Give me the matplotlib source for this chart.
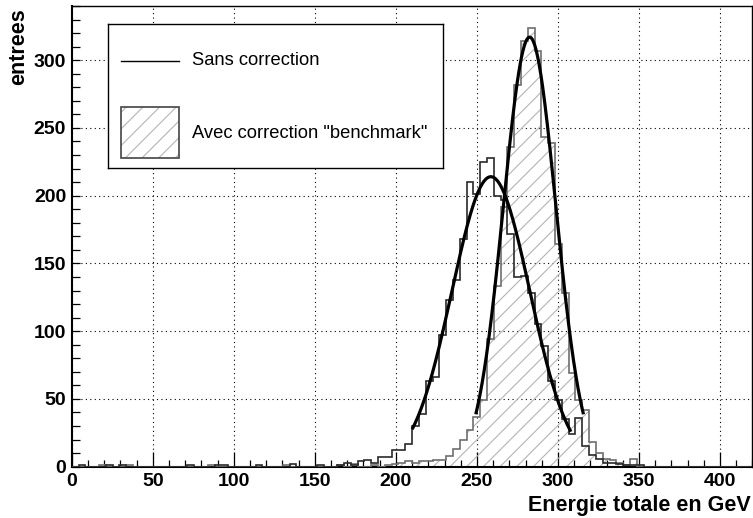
import numpy as np
import matplotlib.pyplot as plt
from matplotlib.patches import Rectangle

plt.rcParams['font.family'] = ['Liberation Sans', 'DejaVu Sans']
plt.rcParams['hatch.linewidth'] = 0.8

# histogram binning: 100 bins of 4.2 GeV
e_min, e_max, n_bins = 0.0, 420.0, 100

# entries per bin, without correction
sans_correction = [
    0, 1, 0, 0, 0, 1, 0, 1, 0, 0,
    0, 0, 0, 0, 0, 0, 0, 1, 0, 0,
    0, 1, 1, 0, 0, 0, 0, 1, 0, 0,
    0, 0, 2, 0, 0, 0, 1, 0, 0, 1,
    3, 1, 4, 5, 3, 7, 7, 12, 12, 17,
    30, 39, 63, 66, 97, 123, 138, 168, 210, 201,
    225, 228, 200, 197, 172, 140, 141, 128, 105, 89,
    63, 49, 35, 24, 36, 15, 9, 6, 3, 3,
    2, 1, 1, 1, 0, 0, 0, 0, 0, 0,
    0, 0, 0, 0, 0, 0, 0, 0, 0, 0,
]

# entries per bin, with the "benchmark" correction
avec_correction = [
    0, 0, 0, 0, 1, 0, 0, 0, 1, 0,
    0, 0, 0, 0, 0, 0, 0, 0, 0, 0,
    1, 0, 0, 0, 0, 0, 0, 0, 0, 0,
    0, 1, 0, 0, 0, 0, 0, 0, 0, 1,
    0, 2, 0, 0, 1, 0, 1, 2, 3, 4,
    3, 4, 4, 5, 5, 8, 13, 20, 27, 37,
    49, 94, 133, 192, 236, 282, 314, 324, 307, 243,
    239, 164, 128, 69, 49, 42, 18, 10, 6, 5,
    3, 1, 6, 0, 0, 0, 0, 0, 0, 0,
    0, 0, 0, 0, 0, 0, 0, 0, 0, 0,
]

# gaussian fits: constant, mean, sigma, fit range
fit_sans = dict(const=214.0, mean=258.6, sigma=24.0, lo=210.5, hi=307.5)
fit_bench = dict(const=317.0, mean=282.5, sigma=16.2, lo=249.5, hi=315.5)

labels = ['Sans correction', 'Avec correction "benchmark"']

hatch_grey = '#b4b4b4'
bench_line = '#6e6e6e'
sans_line = '#2a2a2a'


def gaus(p, n=300):
    x = np.linspace(p['lo'], p['hi'], n)
    return x, p['const'] * np.exp(-0.5 * ((x - p['mean']) / p['sigma']) ** 2)


fig = plt.figure(figsize=(7.53, 5.18), dpi=100)
ax = fig.add_axes([71.7 / 753, 51.3 / 518, (752.5 - 71.7) / 753, 461 / 518])

edges = np.linspace(e_min, e_max, n_bins + 1)

# corrected histogram: hatched fill + grey outline
ax.stairs(avec_correction, edges, fill=True, facecolor='none',
          edgecolor=hatch_grey, hatch='//', linewidth=0, zorder=2)
ax.stairs(avec_correction, edges, color=bench_line, linewidth=1.2, zorder=3)
# uncorrected histogram: plain outline
ax.stairs(sans_correction, edges, color=sans_line, linewidth=1.2, zorder=4)

# fit curves
for p in (fit_sans, fit_bench):
    xf, yf = gaus(p)
    ax.plot(xf, yf, color='black', linewidth=2.3, zorder=5)

ax.set_xlim(e_min, e_max)
ax.set_ylim(0, 1.05 * max(avec_correction))

ax.set_xticks(np.arange(0, 401, 50))
ax.set_xticks(np.arange(0, 421, 10), minor=True)
ax.set_yticks(np.arange(0, 301, 50))
ax.set_yticks(np.arange(0, 341, 10), minor=True)

ax.set_axisbelow(True)
ax.grid(True, which='major', color='black', linestyle=(0, (1, 3)), linewidth=0.8)

ax.tick_params(which='both', direction='in', top=False, right=False)
ax.tick_params(axis='x', which='major', length=10.8, width=0.9, pad=4.5, labelsize=14)
ax.tick_params(axis='x', which='minor', length=5, width=0.9)
ax.tick_params(axis='y', which='major', length=6, width=0.9, pad=4, labelsize=14)
ax.tick_params(axis='y', which='minor', length=5.5, width=0.9)
for lbl in ax.get_xticklabels() + ax.get_yticklabels():
    lbl.set_fontweight('bold')

for side in ('top', 'right'):
    ax.spines[side].set_linewidth(1.0)
for side in ('left', 'bottom'):
    ax.spines[side].set_linewidth(1.5)

ax.set_xlabel('Energie totale en GeV', fontsize=15.5, fontweight='bold', loc='right')
ax.xaxis.set_label_coords(0.997, -0.061)
ax.set_ylabel('entrees', fontsize=15.5, fontweight='bold', loc='top')
ax.yaxis.set_label_coords(-0.062, 0.995)

# legend box (TLegend-like, NDC placement)
lax = fig.add_axes([108.3 / 753, 1 - 168.3 / 518, 335 / 753, 144 / 518])
lax.set_xlim(0, 1)
lax.set_ylim(0, 1)
lax.set_xticks([])
lax.set_yticks([])
for s in lax.spines.values():
    s.set_linewidth(1.0)
    s.set_color('black')

lax.plot([0.037, 0.212], [0.747, 0.747], color='black', linewidth=1.0)
lax.add_patch(Rectangle((0.037, 0.074), 0.175, 0.35, facecolor='none',
                        edgecolor=hatch_grey, hatch='//', linewidth=0))
lax.add_patch(Rectangle((0.037, 0.074), 0.175, 0.35, facecolor='none',
                        edgecolor='#444444', linewidth=1.2))
lax.text(0.249, 0.747, labels[0], fontsize=13.2, va='center', ha='left')
lax.text(0.249, 0.243, labels[1], fontsize=13.2, va='center', ha='left')

fig.savefig('out.png', dpi=100)
